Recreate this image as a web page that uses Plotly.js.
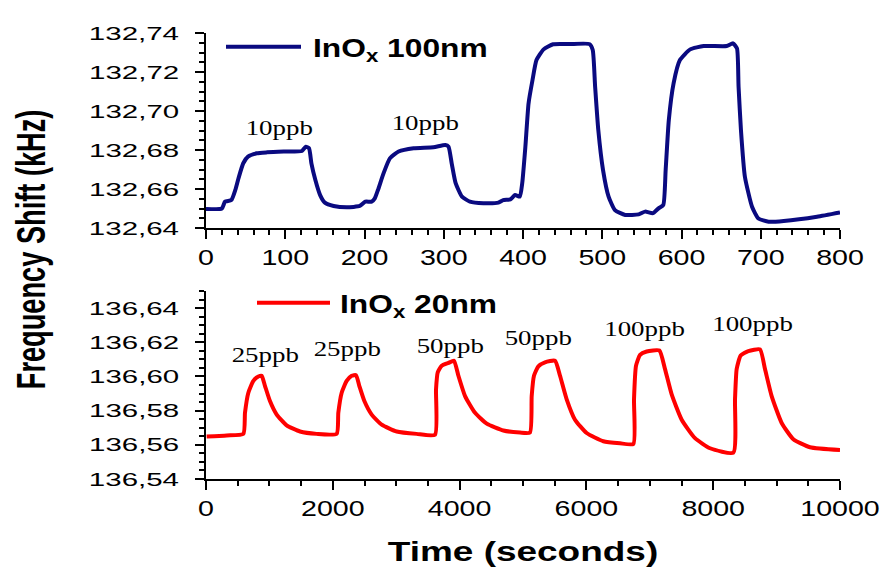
<!DOCTYPE html>
<html>
<head>
<meta charset="utf-8">
<script src="https://cdn.plot.ly/plotly-3.0.1.min.js"></script>
<style>
  html, body { margin: 0; padding: 0; background: #fff; }
  #chart { width: 885px; height: 569px; }
</style>
</head>
<body>
<div id="chart"></div>
<script>
// ---------- DATA ----------
// Top panel: InOx 100nm, time (s) vs frequency shift (kHz)
const topTime = [0, 20, 24, 32, 37, 41, 47, 53, 64, 77, 98, 121, 126, 130, 133, 138, 144, 150, 161, 178, 194, 201, 209, 213, 217, 224, 232, 243, 262, 287, 302, 306, 310, 315, 323, 333, 350, 369, 375, 384, 390, 396, 399, 403, 407, 412, 417, 426, 438, 459, 484, 488, 491, 495, 501, 508, 516, 529, 546, 554, 564, 571, 577, 580, 584, 590, 598, 611, 628, 657, 665, 670, 672, 675, 680, 689, 697, 710, 729, 771, 800];
const topFreq = [132.6498, 132.6500, 132.6535, 132.6543, 132.6595, 132.6655, 132.6732, 132.6766, 132.6783, 132.6788, 132.6792, 132.6795, 132.6817, 132.6809, 132.6732, 132.6646, 132.6569, 132.6530, 132.6513, 132.6506, 132.6513, 132.6535, 132.6535, 132.6552, 132.6595, 132.6680, 132.6757, 132.6792, 132.6809, 132.6814, 132.6826, 132.6817, 132.6732, 132.6630, 132.6561, 132.6535, 132.6527, 132.6530, 132.6543, 132.6547, 132.6569, 132.6561, 132.6629, 132.6817, 132.7039, 132.7159, 132.7261, 132.7316, 132.7342, 132.7343, 132.7343, 132.7313, 132.7125, 132.6903, 132.6697, 132.6561, 132.6492, 132.6467, 132.6470, 132.6484, 132.6476, 132.6501, 132.6518, 132.6697, 132.6954, 132.7142, 132.7261, 132.7316, 132.7333, 132.7333, 132.7347, 132.7321, 132.7125, 132.6903, 132.6663, 132.6509, 132.6449, 132.6432, 132.6436, 132.6458, 132.6480];

// Bottom panel: InOx 20nm
const botTime = [10, 326, 589, 615, 668, 747, 826, 878, 931, 1009, 1115, 1272, 1483, 1745, 2061, 2087, 2140, 2219, 2298, 2366, 2419, 2498, 2613, 2771, 3008, 3323, 3612, 3628, 3655, 3718, 3823, 3912, 3981, 4086, 4244, 4428, 4690, 4953, 5110, 5137, 5173, 5242, 5347, 5505, 5584, 5689, 5820, 6004, 6267, 6530, 6741, 6751, 6783, 6846, 6951, 7151, 7240, 7345, 7503, 7713, 7950, 8318, 8344, 8370, 8433, 8554, 8738, 8817, 8922, 9080, 9264, 9527, 10000];
const botFreq = [136.5649, 136.5655, 136.5664, 136.5787, 136.5905, 136.5974, 136.6000, 136.6004, 136.5944, 136.5856, 136.5777, 136.5714, 136.5678, 136.5664, 136.5664, 136.5787, 136.5905, 136.5974, 136.6004, 136.6008, 136.5944, 136.5856, 136.5777, 136.5718, 136.5678, 136.5664, 136.5659, 136.5925, 136.6024, 136.6063, 136.6079, 136.6092, 136.6004, 136.5885, 136.5787, 136.5724, 136.5684, 136.5672, 136.5672, 136.5885, 136.6004, 136.6059, 136.6083, 136.6092, 136.6004, 136.5866, 136.5747, 136.5669, 136.5621, 136.5609, 136.5605, 136.5866, 136.6063, 136.6126, 136.6146, 136.6152, 136.6043, 136.5895, 136.5747, 136.5639, 136.5580, 136.5554, 136.5866, 136.6043, 136.6122, 136.6148, 136.6158, 136.6043, 136.5885, 136.5728, 136.5633, 136.5586, 136.5570];

// Series names
const topName = 'InO<sub>x</sub> 100nm';
const botName = 'InO<sub>x</sub> 20nm';

// Concentration labels (text, and where they sit in data units)
const topLabels = ['10ppb', '10ppb', '25ppb', '25ppb'];
const topLabelT = [93, 277, 455, 642];
const topLabelV = [132.6915, 132.6936, 132.7462, 132.7451];
const botLabels = ['25ppb', '25ppb', '50ppb', '50ppb', '100ppb', '100ppb'];
const botLabelT = [931, 2232, 3849, 5244, 6909, 8620];
const botLabelV = [136.6123, 136.6162, 136.6180, 136.6226, 136.6276, 136.6306];

// Axis titles
const xTitle = 'Time (seconds)';
const yTitle = 'Frequency Shift (kHz)';

// ---------- CHART ----------
const SANS = 'Liberation Sans, Arial, sans-serif';
const SERIF = 'Liberation Serif, Times New Roman, serif';

const traces = [
  { x: topTime, y: topFreq, xaxis: 'x', yaxis: 'y', type: 'scatter', mode: 'lines',
    name: topName, legend: 'legend',
    line: { color: '#0a0a80', width: 4, shape: 'spline', smoothing: 0.5 } },
  { x: botTime, y: botFreq, xaxis: 'x2', yaxis: 'y2', type: 'scatter', mode: 'lines',
    name: botName, legend: 'legend2',
    line: { color: '#ff0000', width: 4, shape: 'spline', smoothing: 0.5 } }
];

function axisBase() {
  return {
    showline: true, linewidth: 2, linecolor: '#000', mirror: false,
    ticks: 'outside', ticklen: 9, tickwidth: 2, tickcolor: '#000',
    showgrid: false, zeroline: false, fixedrange: true,
    minor: { ticks: 'outside', ticklen: 5, tickwidth: 2, tickcolor: '#000', showgrid: false }
  };
}

const xDom = [206 / 885, 840 / 885];
const annotations = [];
topLabels.forEach((t, i) => annotations.push({
  xref: 'x', yref: 'y', x: topLabelT[i], y: topLabelV[i], text: t, showarrow: false,
  font: { family: SERIF, size: 21, color: '#000' }, xanchor: 'center', yanchor: 'middle'
}));
botLabels.forEach((t, i) => annotations.push({
  xref: 'x2', yref: 'y2', x: botLabelT[i], y: botLabelV[i], text: t, showarrow: false,
  font: { family: SERIF, size: 21, color: '#000' }, xanchor: 'center', yanchor: 'middle'
}));
annotations.push({
  xref: 'paper', yref: 'paper', x: 31 / 885, y: 1 - 250 / 569, text: yTitle, textangle: -90,
  showarrow: false, xanchor: 'center', yanchor: 'middle',
  font: { family: SANS, size: 40, weight: 'bold', color: '#000' }
});

const layout = {
  width: 885, height: 569,
  margin: { l: 0, r: 0, t: 0, b: 0 },
  paper_bgcolor: '#fff', plot_bgcolor: '#fff',
  separators: ',.',
  font: { family: SANS, color: '#000' },
  showlegend: true,
  xaxis: Object.assign(axisBase(), {
    domain: xDom, anchor: 'y', range: [0, 800], tick0: 0, dtick: 100,
    tickfont: { size: 22 }, ticklabelstandoff: 0
  }),
  yaxis: Object.assign(axisBase(), {
    domain: [1 - 228 / 569, 1 - 33 / 569], anchor: 'x', range: [132.64, 132.74],
    tick0: 132.64, dtick: 0.02, tickformat: '.2f', tickfont: { size: 19 }, ticklabelstandoff: 12
  }),
  xaxis2: Object.assign(axisBase(), {
    domain: xDom, anchor: 'y2', range: [0, 10000], tick0: 0, dtick: 2000, tickformat: 'd',
    tickfont: { size: 22 }, ticklabelstandoff: 0,
    title: { text: xTitle, font: { family: SANS, size: 28, weight: 'bold', color: '#000' }, standoff: 21 }
  }),
  yaxis2: Object.assign(axisBase(), {
    domain: [1 - 479 / 569, 1 - 291 / 569], anchor: 'x2', range: [136.54, 136.65],
    tick0: 136.54, dtick: 0.02, tickformat: '.2f', tickfont: { size: 19 }, ticklabelstandoff: 12
  }),
  legend: {
    x: 221 / 885, y: 1 - 47 / 569, xanchor: 'left', yanchor: 'middle',
    bgcolor: 'rgba(0,0,0,0)', borderwidth: 0,
    font: { family: SANS, size: 25, weight: 'bold', color: '#000' }
  },
  legend2: {
    x: 252 / 885, y: 1 - 303 / 569, xanchor: 'left', yanchor: 'middle',
    bgcolor: 'rgba(0,0,0,0)', borderwidth: 0,
    font: { family: SANS, size: 25, weight: 'bold', color: '#000' }
  },
  annotations: annotations
};

// Horizontal stretch to mimic the reference's wide lettering (text stays text); idempotent
function stretch(el, k, anchor) {
  try {
    if (el.getAttribute('data-stretched')) return;
    const b0 = el.getBBox();
    const w = el.getComputedTextLength();
    if (!w) return;
    el.setAttribute('textLength', (w * k).toFixed(2));
    el.setAttribute('lengthAdjust', 'spacingAndGlyphs');
    el.setAttribute('data-stretched', '1');
    if (!anchor) return;
    const b1 = el.getBBox();
    let dx = 0;
    if (anchor === 'end') dx = (b0.x + b0.width) - (b1.x + b1.width);
    else if (anchor === 'middle') dx = (b0.x + b0.width / 2) - (b1.x + b1.width / 2);
    else dx = b0.x - b1.x;
    if (Math.abs(dx) > 0.1) el.setAttribute('x', (parseFloat(el.getAttribute('x') || 0) + dx).toFixed(2));
  } catch (e) {}
}

// Legend sample line length and text offset, top / bottom legend: [line length, text x]
const legendGeom = [[75, 92], [73, 88]];

function polishLegends(gd) {
  gd.querySelectorAll('.legendtext, .legend2text').forEach(txt => {
    const item = txt.parentNode;
    const isTop = txt.textContent.indexOf('100') >= 0;
    const g = legendGeom[isTop ? 0 : 1];
    item.querySelectorAll('.legendlines path, .legend2lines path').forEach(p => {
      if (p.getAttribute('d') !== 'M5,0h' + g[0]) p.setAttribute('d', 'M5,0h' + g[0]);
    });
    if (txt.getAttribute('x') !== String(g[1])) txt.setAttribute('x', g[1]);
    stretch(txt, 1.27, null);
    let n = item;
    while (n && n !== gd) {
      if (n.hasAttribute && n.hasAttribute('clip-path')) n.removeAttribute('clip-path');
      n = n.parentNode;
    }
  });
}

function polish(gd) {
  gd.querySelectorAll('.ytick text').forEach(t => stretch(t, 1.55, 'end'));
  gd.querySelectorAll('.xtick text').forEach(t => stretch(t, 1.3, 'middle'));
  gd.querySelectorAll('.x2tick text').forEach(t => stretch(t, 1.3, 'middle'));
  gd.querySelectorAll('.y2tick text').forEach(t => stretch(t, 1.55, 'end'));
  gd.querySelectorAll('.g-x2title text').forEach(t => stretch(t, 1.32, 'middle'));
  gd.querySelectorAll('.annotation-text').forEach(t => {
    const isTitle = t.textContent.indexOf('Frequency') >= 0;
    stretch(t, isTitle ? 0.68 : 1.28, isTitle ? null : 'middle');
  });
  polishLegends(gd);
}

Plotly.newPlot('chart', traces, layout, { staticPlot: true, displayModeBar: false }).then(gd => {
  polish(gd);
  const mo = new MutationObserver(() => polish(gd));
  mo.observe(gd, { childList: true, subtree: true });
  gd.on('plotly_afterplot', () => polish(gd));
  [20, 100, 300, 700].forEach(ms => setTimeout(() => polish(gd), ms));
});
</script>
</body>
</html>
